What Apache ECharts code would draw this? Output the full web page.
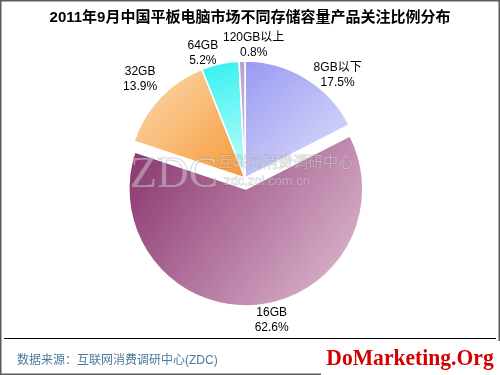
<!DOCTYPE html>
<html>
<head>
<meta charset="utf-8">
<script src="https://cdn.jsdelivr.net/npm/echarts@6/dist/echarts.min.js"></script>
<style>
html,body{margin:0;padding:0;background:#fff;}
#chart{width:500px;height:375px;}
</style>
</head>
<body>
<div id="chart"></div>
<script>
// Data
var categories = ['8GB以下', '16GB', '32GB', '64GB', '120GB以上'];
var shares = [17.5, 62.6, 13.9, 5.2, 0.8];
var titleText = '2011年9月中国平板电脑市场不同存储容量产品关注比例分布';
var sourceText = '数据来源：互联网消费调研中心(ZDC)';
var brandText = 'DoMarketing.Org';

// Styles (not data)
var gradients = [
  ['#9898f4', '#e2e2fa', 0, 0, 1, 1],
  ['#86306a', '#e2c0d6', 0, 0, 1, 1],
  ['#fadcb0', '#f89838', 0, 0, 1, 1],
  ['#30f0f0', '#c8fcfc', 0, 0, 1, 1],
  ['#b8a0cc', '#d4c4e0', 0, 0, 1, 1]
];
var labelLen = [22, 14, 26, 16, 16];
var labelShift = [[20, 16], [0, 0], [-1, -1], [-14, 5], [12, 0]];
var labelPad = [[0, 0, 0, 0], [2, 0, 0, 22], [0, 0, 0, 0], [0, 0, 0, 0], [0, 0, 0, 0]];

var chart = echarts.init(document.getElementById('chart'), null, {renderer: 'canvas'});
var font = '"Liberation Sans", Arial, "Noto Sans CJK SC", sans-serif';

var data = categories.map(function (c, i) {
  var g = gradients[i];
  return {
    name: c,
    value: shares[i],
    selected: i === 1,
    itemStyle: {
      color: new echarts.graphic.LinearGradient(g[2], g[3], g[4], g[5], [
        {offset: 0, color: g[0]}, {offset: 1, color: g[1]}
      ])
    },
    label: {padding: labelPad[i]},
    labelLine: {show: false, length: labelLen[i], length2: 0}
  };
});

chart.setOption({
  backgroundColor: '#fff',
  animation: false,
  title: {
    text: titleText,
    left: 'center',
    top: 5,
    textStyle: {fontSize: 15, fontWeight: 'bold', color: '#000', fontFamily: font}
  },
  graphic: [
    {type: 'rect', shape: {x: 0.75, y: 0.75, width: 498.5, height: 373.5}, style: {fill: null, stroke: '#5a5a5a', lineWidth: 1.5}, z: 100},
    {type: 'line', shape: {x1: 4, y1: 338.5, x2: 496, y2: 338.5}, style: {stroke: '#000', lineWidth: 1}},
    {type: 'text', x: 17, y: 361, style: {text: sourceText, fill: '#4a7b9d', fontSize: 12, fontFamily: font, verticalAlign: 'middle'}},
    {type: 'rect', shape: {x: 321, y: 341, width: 179, height: 34}, style: {fill: '#fff'}, z: 101},
    {type: 'text', x: 410, y: 359, scaleX: 0.9, z: 102, style: {text: brandText, fill: '#d40000', fontSize: 24, fontWeight: 'bold', fontFamily: '"Liberation Serif", "DejaVu Serif", serif', align: 'center', verticalAlign: 'middle'}},
    // watermark
    {type: 'text', x: 130, y: 175, z: 50, style: {text: 'ZDC', fill: 'rgba(255,255,255,0.35)', stroke: 'rgba(110,110,110,0.35)', lineWidth: 1, fontSize: 44, fontFamily: '"Liberation Serif", serif', verticalAlign: 'middle'}},
    {type: 'text', x: 218, y: 163, z: 50, style: {text: '互联网消费调研中心', fill: 'rgba(255,255,255,0.35)', stroke: 'rgba(110,110,110,0.3)', lineWidth: 0.8, fontSize: 15, fontFamily: font, verticalAlign: 'middle'}},
    {type: 'text', x: 224, y: 181, z: 50, style: {text: 'zdc.zol.com.cn', fill: 'rgba(255,255,255,0.35)', stroke: 'rgba(110,110,110,0.3)', lineWidth: 0.8, fontSize: 13, fontFamily: font, verticalAlign: 'middle'}}
  ],
  series: [{
    type: 'pie',
    center: [245, 178],
    radius: 117,
    startAngle: 90,
    clockwise: true,
    selectedMode: 'single',
    selectedOffset: 11,
    avoidLabelOverlap: false,
    itemStyle: {borderColor: '#fff', borderWidth: 1.5},
    label: {
      show: true,
      position: 'outside',
      formatter: '{n|{b}}\n{n|{c}%}',
      rich: {n: {fontSize: 12, lineHeight: 15, align: 'center', color: '#000', fontFamily: font}}
    },
    labelLine: {show: false},
    labelLayout: function (params) {
      var p = params.labelLinePoints;
      if (!p) return {};
      var s = labelShift[params.dataIndex];
      return {x: p[2][0] + s[0], y: p[2][1] + s[1], align: 'center', verticalAlign: 'middle'};
    },
    emphasis: {disabled: true},
    data: data
  }]
});
</script>
</body>
</html>
